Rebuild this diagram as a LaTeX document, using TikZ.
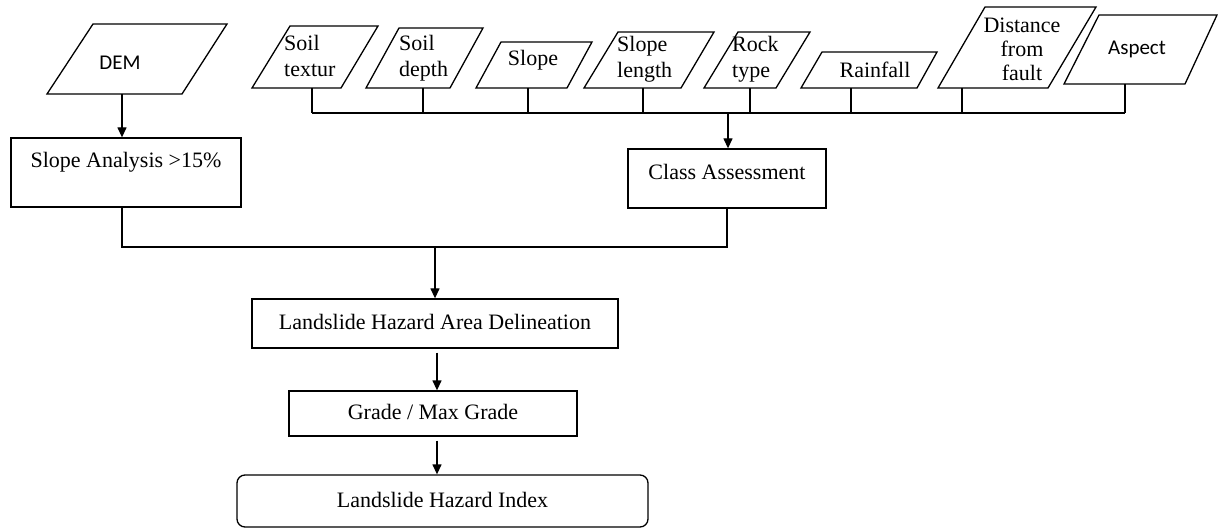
\documentclass[tikz,border=0pt]{standalone}
\usepackage{fontspec}
\setmainfont{Liberation Serif}
\newfontfamily\calfont{Carlito}
\usetikzlibrary{arrows.meta}
\tikzset{
  ln/.style={line width=1.3pt},
  arr/.style={line width=1.3pt,-{Triangle[length=10pt,width=9pt]}},
  pbox/.style={draw,line width=1.3pt,line join=miter},
  txt/.style={inner sep=0pt,font=\fontsize{22}{26}\selectfont},
  ctxt/.style={inner sep=0pt,font=\calfont\fontsize{21}{25}\selectfont},
  rbox/.style={draw,line width=1.3pt,inner sep=0pt,text height=15pt,text depth=3pt,font=\fontsize{22}{26}\selectfont}
}
\begin{document}
\begin{tikzpicture}[x=1pt,y=-1pt]
\useasboundingbox (0,0) rectangle (1218,529);
% DEM
\draw[pbox] (93,24) -- (227,24) -- (182,94) -- (47,94) -- cycle;
\node[ctxt] (dem) at (120,63) {DEM};
\coordinate (demB) at (122,94);
% Slope analysis
\node[rbox,minimum width=230pt,minimum height=69pt,text depth=25pt] (sa) at (126,172.5) {Slope Analysis >15\%};
\draw[arr] (demB) -- (demB |- sa.north);
% top inputs
\draw[pbox] (290,26) -- (378,26) -- (341,88) -- (252,88) -- cycle;
\node[txt,anchor=west,align=left] (st) at (284,56) {Soil\\textur};
\coordinate (stB) at (312,88);
\draw[pbox] (399,28) -- (483,28) -- (450,88) -- (366,88) -- cycle;
\node[txt,anchor=west,align=left] (sd) at (399,58) {Soil\\depth};
\coordinate (sdB) at (423,88);
\draw[pbox] (501,42) -- (592,42) -- (567,88) -- (476,88) -- cycle;
\node[txt] (sl) at (533,60) {Slope};
\coordinate (slB) at (528,88);
\draw[pbox] (618,32) -- (714,32) -- (681,88) -- (584,88) -- cycle;
\node[txt,anchor=west,align=left] (sln) at (617,59) {Slope\\length};
\coordinate (slnB) at (643,88);
\draw[pbox] (738,32) -- (810,32) -- (776,88) -- (704,88) -- cycle;
\node[txt,anchor=west,align=left] (rt) at (732,59) {Rock\\type};
\coordinate (rtB) at (750,88);
\draw[pbox] (822,52) -- (937,52) -- (917,88) -- (801,88) -- cycle;
\node[txt] (rf) at (875,70) {Rainfall};
\coordinate (rfB) at (851,88);
\draw[pbox] (985,7) -- (1096,7) -- (1048,88) -- (938,88) -- cycle;
\node[txt,align=center] (df) at (1022,49) {Distance\\[-2pt]from\\[-2pt]fault};
\coordinate (dfB) at (962,88);
\draw[pbox] (1099,15) -- (1217,15) -- (1185,84) -- (1064,84) -- cycle;
\node[ctxt] (as) at (1137,49) {Aspect};
\coordinate (asB) at (1125,84);
% bus
\coordinate (busL) at (312,113);
\coordinate (busR) at (1125,113);
\coordinate (busM) at (728,113);
\draw[ln] (busL) -- (busR);
\foreach \c in {stB,sdB,slB,slnB,rtB,rfB,dfB,asB}
  \draw[ln] (\c) -- (\c |- busL);
% class assessment
\node[rbox,minimum width=198pt,minimum height=59pt,text depth=13pt] (ca) at (727,178.5) {Class Assessment};
\draw[arr] (busM) -- (busM |- ca.north);
% join
\coordinate (jL) at (122,247);
\coordinate (jR) at (727,247);
\coordinate (jM) at (435,247);
\draw[ln] (sa.south -| jL) -- (jL) -- (jR) -- (ca.south -| jR);
% lower chain
\node[rbox,minimum width=366pt,minimum height=49pt] (lhad) at (435,323.5) {Landslide Hazard Area Delineation};
\draw[arr] (jM) -- (jM |- lhad.north);
\node[rbox,minimum width=288pt,minimum height=45pt] (gr) at (433,413.5) {Grade / Max Grade};
\node[rbox,rounded corners=8pt,minimum width=411pt,minimum height=52pt] (lhi) at (442.5,501) {Landslide Hazard Index};
\coordinate (aX) at (437,0);
\draw[arr,shorten <=4pt] (lhad.south -| aX) -- (gr.north -| aX);
\draw[arr,shorten <=4pt] (gr.south -| aX) -- (lhi.north -| aX);
\end{tikzpicture}
\end{document}
